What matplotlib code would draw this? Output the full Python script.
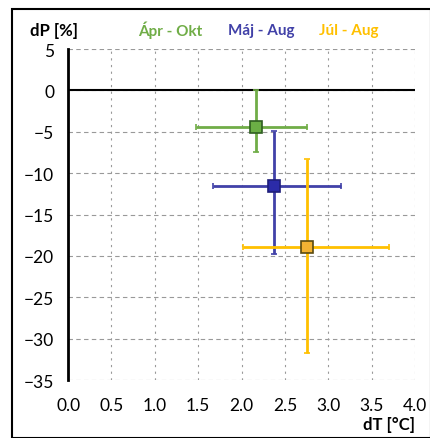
import numpy as np
import matplotlib
matplotlib.use("Agg")
import matplotlib.pyplot as plt
from matplotlib.patches import Rectangle

plt.rcParams['font.family'] = ['Lato', 'DejaVu Sans']

# periods
labels = ["Ápr - Okt", "Máj - Aug", "Júl - Aug"]
dT = [2.17, 2.37, 2.75]
dP = [-4.4, -11.6, -18.9]
dT_lo = [1.48, 1.67, 2.02]
dT_hi = [2.76, 3.15, 3.70]
dP_lo = [-7.5, -19.8, -31.7]
dP_hi = [0.0, -4.95, -8.3]
line_cols = ["#70AD47", "#4141A8", "#FFC000"]
face_cols = ["#6BAF45", "#2B2BA8", "#F2B233"]
edge_cols = ["#2E5E20", "#1E1E7A", "#5A4A10"]

fig = plt.figure(figsize=(4.31, 4.39), dpi=100)
ax = fig.add_axes([0.158, 0.132, 0.805, 0.754])

for i in range(3):
    xerr = [[dT[i] - dT_lo[i]], [dT_hi[i] - dT[i]]]
    yerr = [[dP[i] - dP_lo[i]], [dP_hi[i] - dP[i]]]
    ax.errorbar(dT[i], dP[i], xerr=xerr, yerr=yerr, fmt='s', color=line_cols[i],
                ecolor=line_cols[i], elinewidth=2, capsize=2, capthick=2,
                markersize=9, markerfacecolor=face_cols[i],
                markeredgecolor=edge_cols[i], markeredgewidth=1.2, zorder=3 + i)

ax.set_xlim(0, 4)
ax.set_ylim(-35, 5)
ax.set_xticks(np.arange(0, 4.01, 0.5))
ax.set_yticks(np.arange(-35, 5.01, 5))
ax.set_xticklabels([f"{v:.1f}" for v in np.arange(0, 4.01, 0.5)])
ax.tick_params(length=0, labelsize=12.5, pad=12)
ax.tick_params(axis='y', pad=10)
ax.grid(True, axis='y', color="#999999", linestyle=(0, (4, 3)), linewidth=0.8)
ax.grid(True, axis='x', color="#999999", linestyle=(0, (2, 4)), linewidth=0.8)
for s in ['top', 'right', 'bottom']:
    ax.spines[s].set_visible(False)
ax.spines['left'].set_linewidth(2)
ax.axhline(0, color='black', linewidth=1.5, zorder=2)

fig.text(0.07, 0.93, "dP [%]", fontsize=12, fontweight='bold', ha='left', va='center')
fig.text(0.963, 0.032, "dT [°C]", fontsize=12, fontweight='bold', ha='right', va='center')
for lab, c, x in zip(labels, line_cols, [0.395, 0.605, 0.81]):
    fig.text(x, 0.93, lab, color=c, fontsize=11, fontweight='bold', ha='center', va='center')

fig.patches.append(Rectangle((0.028, 0.0), 0.972, 0.977, transform=fig.transFigure,
                             fill=False, edgecolor='black', linewidth=1.5))

fig.savefig("out.png", dpi=100)
